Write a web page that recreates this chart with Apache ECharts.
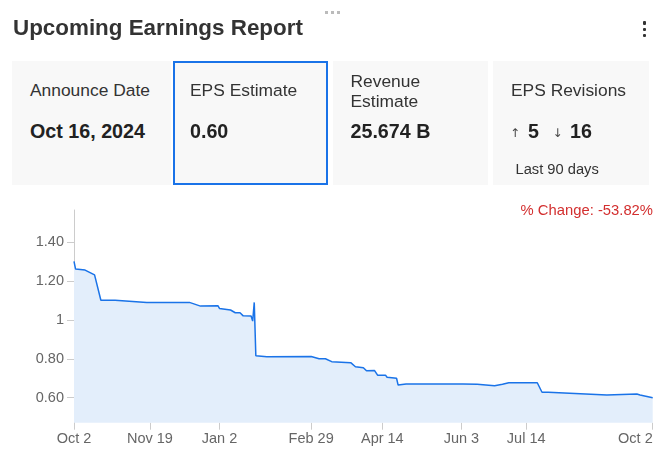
<!DOCTYPE html>
<html>
<head>
<meta charset="utf-8">
<script src="https://cdn.jsdelivr.net/npm/echarts@6/dist/echarts.min.js"></script>
<style>
html,body{margin:0;padding:0;background:#fff;}
#wrap{position:relative;width:666px;height:473px;overflow:hidden;font-family:"Liberation Sans",Arial,sans-serif;color:#333;}
#chart{position:absolute;left:0;top:0;width:666px;height:473px;}
.t{position:absolute;white-space:nowrap;line-height:1;}
.card{position:absolute;top:61px;height:124px;background:#f8f8f8;box-sizing:border-box;}
.lbl{font-size:17.4px;color:#333;}
.val{font-size:19.7px;font-weight:bold;color:#222;}
.arr{font-family:"DejaVu Sans",sans-serif;font-size:12px;color:#444;}
.dot{position:absolute;width:3px;height:3px;}
</style>
</head>
<body>
<div id="wrap">
  <div id="chart"></div>
  <div class="t" style="left:13px;top:17.2px;font-size:22.4px;font-weight:bold;color:#333;">Upcoming Earnings Report</div>
  <div class="dot" style="left:325px;top:11px;background:#bbb;"></div>
  <div class="dot" style="left:331px;top:11px;background:#bbb;"></div>
  <div class="dot" style="left:337px;top:11px;background:#bbb;"></div>
  <div class="dot" style="left:642.5px;top:21px;background:#333;border-radius:1px;width:3.5px;height:3.5px;"></div>
  <div class="dot" style="left:642.5px;top:27.5px;background:#333;border-radius:1px;width:3.5px;height:3.5px;"></div>
  <div class="dot" style="left:642.5px;top:33.5px;background:#333;border-radius:1px;width:3.5px;height:3.5px;"></div>

  <div class="card" style="left:12px;width:159px;"></div>
  <div class="card" style="left:173px;width:155px;border:2px solid #1a73e8;"></div>
  <div class="card" style="left:333px;width:155px;"></div>
  <div class="card" style="left:493px;width:156px;"></div>

  <div class="t lbl" style="left:30px;top:82px;">Announce Date</div>
  <div class="t val" style="left:30px;top:121.6px;">Oct 16, 2024</div>
  <div class="t lbl" style="left:190px;top:82px;">EPS Estimate</div>
  <div class="t val" style="left:190px;top:121.6px;">0.60</div>
  <div class="t lbl" style="left:350.5px;top:72.6px;">Revenue</div>
  <div class="t lbl" style="left:350.5px;top:92.6px;">Estimate</div>
  <div class="t val" style="left:350.5px;top:121.6px;">25.674 B</div>
  <div class="t lbl" style="left:511px;top:82px;">EPS Revisions</div>
  <div class="t arr" style="left:510px;top:127px;">↑</div>
  <div class="t val" style="left:528px;top:121.6px;">5</div>
  <div class="t arr" style="left:552.5px;top:127px;">↓</div>
  <div class="t val" style="left:570px;top:121.6px;">16</div>
  <div class="t" style="left:515.5px;top:161.6px;font-size:14.7px;color:#333;">Last 90 days</div>

  <div class="t" style="right:13px;top:203px;font-size:14.8px;color:#d32f2f;">% Change: -53.82%</div>
</div>
<script>
const dates = [
  '2023-10-02','2023-10-03','2023-10-09','2023-10-15','2023-10-19','2023-10-28',
  '2023-11-17','2023-12-14','2023-12-21','2024-01-01','2024-01-02','2024-01-09',
  '2024-01-12','2024-01-15','2024-01-17','2024-01-22','2024-01-23','2024-01-24',
  '2024-01-25','2024-02-01','2024-02-29','2024-03-05','2024-03-09','2024-03-13',
  '2024-03-25','2024-03-28','2024-04-02','2024-04-04','2024-04-09','2024-04-11',
  '2024-04-16','2024-04-17','2024-04-23','2024-04-24','2024-04-25','2024-04-29',
  '2024-06-04','2024-06-13','2024-06-24','2024-06-29','2024-07-03','2024-07-21',
  '2024-07-24','2024-07-28','2024-07-29','2024-09-03','2024-09-22','2024-09-24',
  '2024-10-02'
];
const eps = [
  1.30, 1.26, 1.255, 1.23, 1.10, 1.10,
  1.089, 1.089, 1.07, 1.072, 1.058, 1.05,
  1.036, 1.036, 1.02, 1.019, 0.993, 1.089,
  0.815, 0.81, 0.812, 0.80, 0.80, 0.785,
  0.78, 0.759, 0.754, 0.738, 0.74, 0.716,
  0.716, 0.705, 0.70, 0.665, 0.674, 0.67,
  0.67, 0.669, 0.662, 0.669, 0.677, 0.677,
  0.628, 0.628, 0.619, 0.614, 0.619, 0.614,
  0.60
];
const xTickDates = ['2023-10-02','2023-11-19','2024-01-02','2024-02-29','2024-04-14','2024-06-03','2024-07-14','2024-10-02'];
const xTickLabels = ['Oct 2','Nov 19','Jan 2','Feb 29','Apr 14','Jun 3','Jul 14','Oct 2'];
const yTickValues = [0.6, 0.8, 1, 1.2, 1.4];
const yTickLabels = ['0.60', '0.80', '1', '1.20', '1.40'];

// day offset from the first date (UTC parse, no DST issues)
const t0 = Date.parse(dates[0]);
const day = d => Math.round((Date.parse(d) - t0) / 86400000);
const xTicks = xTickDates.map(day);
function nearestLabel(v, vals, labels) {
  let best = 0, bd = Infinity;
  vals.forEach((t, i) => { const dd = Math.abs(t - v); if (dd < bd) { bd = dd; best = i; } });
  return labels[best];
}

const chart = echarts.init(document.getElementById('chart'), null, {renderer: 'canvas'});
chart.setOption({
  animation: false,
  grid: {left: 74, right: 13.3, top: 210, bottom: 50.3, containLabel: false},
  xAxis: {
    type: 'value',
    min: day(dates[0]),
    max: day(dates[dates.length - 1]),
    axisLine: {show: false},
    axisTick: {show: true, customValues: xTicks, length: 7, lineStyle: {color: '#ccc', width: 1}},
    axisLabel: {
      customValues: xTicks,
      formatter: v => nearestLabel(v, xTicks, xTickLabels),
      color: '#666', fontSize: 14.5, fontFamily: 'Liberation Sans', margin: 9,
      alignMaxLabel: 'right', hideOverlap: false
    },
    splitLine: {show: false}
  },
  yAxis: {
    type: 'value',
    min: 0.472,
    max: 1.563,
    axisLine: {show: true, lineStyle: {color: '#ccc', width: 1}},
    axisTick: {show: true, customValues: yTickValues, length: 7, lineStyle: {color: '#ccc', width: 1}},
    axisLabel: {
      customValues: yTickValues,
      formatter: v => nearestLabel(v, yTickValues, yTickLabels),
      color: '#666', fontSize: 14.5, fontFamily: 'Liberation Sans', margin: 10
    },
    splitLine: {show: false}
  },
  series: [{
    type: 'line',
    data: dates.map((d, i) => [day(d), eps[i]]),
    showSymbol: false,
    lineStyle: {color: '#1a73e8', width: 1.5},
    itemStyle: {color: '#1a73e8'},
    areaStyle: {color: '#e3eefb', opacity: 1}
  }]
});
</script>
</body>
</html>
